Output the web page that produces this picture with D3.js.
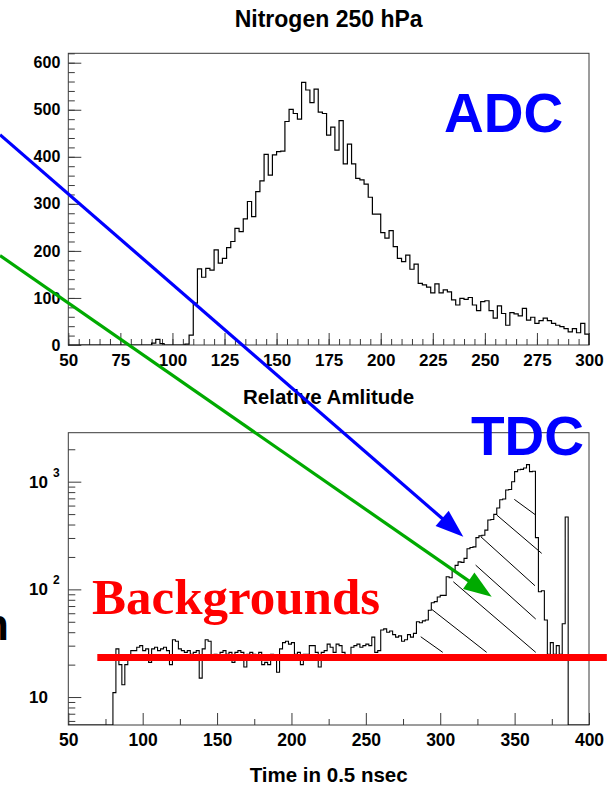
<!DOCTYPE html>
<html><head><meta charset="utf-8">
<script src="https://cdn.jsdelivr.net/npm/d3@7"></script>
<style>body{margin:0;background:#fff} svg{display:block}</style>
</head><body>
<script>
// ---------------- DATA ----------------
const titleText = "Nitrogen 250 hPa";
const adcXLabel = "Relative Amlitude";
const tdcXLabel = "Time in 0.5 nsec";

const adcStart = 50, adcBinWidth = 2;
const adcCounts = [
  0,0,0,0,0,0,0,0,0,0, 0,0,0,0,0,0,0,0,0,0,          // 50-88
  4,12,3, 0,0,0,0,0, 2,21,89,                        // 90-110
  162,144,163,159,202,174,184,207,220,248,            // 112-130
  241,268,305,273,326,349,405,361,404,411,            // 132-150
  412,475,501,492,480,558,542,515,544,495,            // 152-170
  492,446,463,414,477,385,427,385,354,351,            // 172-190
  342,314,278,278,239,227,243,209,184,177,            // 192-210
  191,161,172,131,128,123,111,130,111,117,            // 212-230
  113,96,85,99,97,101,85,73,92,94,                    // 232-250
  73,57,83,67,42,69,66,62,78,53,                      // 252-270
  59,46,52,57,52,46,42,39,35,28,                      // 272-290
  35,26,46,23                                         // 292-298
];
const adcXTicks = [50,75,100,125,150,175,200,225,250,275,300];
const adcXMinor = d3.range(50, 301, 5);
const adcYTicks = [0,100,200,300,400,500,600];
const adcYMinor = d3.range(0, 621, 20);

const tdcStart = 50, tdcBinWidth = 2;
const tdcCounts = [
  0,0,0,0,0,0,0,0,0,0,0,0,0,0,0,                      // 50-78
  11,28,20,13,20,23,27,27,29,30,                      // 80-98
  27,28,21,28,29,27,28,29,27,20,                      // 100-118
  34,33,28,27,26,27,25,26,27,15,                      // 120-138
  28,34,33,24,25,23,26,27,25,26,                      // 140-158
  21,26,27,26,19,25,26,25,24,26,                      // 160-178
  20,21,20,25,24,17,28,32,33,31,                      // 180-198
  32,25,26,20,25,25,30,30,26,                         // 200-216
  19,26,27,31,29,26,31,30,26,23,                      // 218-236
  22,29,30,31,29,30,31,30,36,26,                      // 238-256
  27,42,43,40,41,38,36,37,33,34,                      // 258-276
  38,36,39,50,49,51,52,64,75,77,                      // 278-296
  85,88,88,131,128,152,167,180,178,194,               // 298-316
  238,245,248,302,314,318,355,440,445,497,            // 318-336
  570,680,690,838,845,1000,1240,1290,1300,1340,       // 338-356
  1440,1240,1250,302,95,97,52,25,32,25,               // 358-376
  30,25,48,470,0,                                     // 378-386
  0,0,0,0,0,0                                         // 388-398
];
const tdcXTicks = [50,100,150,200,250,300,350,400];
const tdcXMinor = [75,125,175,225,275,325,375];
const tdcYTicks = [10,100,1000];
const tdcYExp = ["", "2", "3"];
const tdcYMinor = [6,7,8,9,20,30,40,50,60,70,80,90,200,300,400,500,600,700,800,900,2000];

// annotations (in data units of the plots)
const backgroundLevel = 23.3;           // TDC counts
const backgroundRange = [69.5, 412];    // TDC x
const hatchSegments = [                 // TDC [x1,v1,x2,v2]
  [286.9,36.3,301.7,26.0],
  [294.3,65.2,331.2,26.0],
  [308.8,117.7,364.2,26.0],
  [323.8,168,364.2,53],
  [327.4,307,363.7,108],
  [338,490,368.2,216],
  [349.8,685,364.2,490]
];
// arrows: start in ADC units, tip in TDC units
const arrows = [
  {color:"#0000ff", from:[17.2,447], to:[315.5,308]},
  {color:"#00aa00", from:[17.2,190], to:[334.6,85.3]}
];

// ---------------- LAYOUT ----------------
const W = 611, H = 788;
const frameL = 68.3, frameR = 589;
const adcT = 53.3, adcB = 345;
const tdcT = 432.7, tdcB = 725;
const FONT = "'Liberation Sans', Arial, Helvetica, sans-serif";

const svg = d3.select("body").append("svg").attr("width", W).attr("height", H)
  .style("font-family", FONT);

const xA = d3.scaleLinear().domain([50,300]).range([frameL, frameR]);
const yA = d3.scaleLinear().domain([0,620]).range([adcB, adcT]);
const xT = d3.scaleLinear().domain([50,400]).range([frameL, frameR]);
const yT = d3.scaleLog().domain([5.5,2850]).range([tdcB, tdcT]);

function stepPath(start, width, counts, xs, ys, floorVal) {
  const p = d3.path();
  const yv = v => ys(Math.max(v, floorVal));
  p.moveTo(xs(start), yv(floorVal));
  counts.forEach((c,i) => {
    p.lineTo(xs(start + i*width), yv(c));
    p.lineTo(xs(start + (i+1)*width), yv(c));
  });
  p.lineTo(xs(start + counts.length*width), yv(floorVal));
  return p.toString();
}

const defs = svg.append("defs");
defs.append("clipPath").attr("id","clipA").append("rect")
  .attr("x",frameL).attr("y",adcT).attr("width",frameR-frameL).attr("height",adcB-adcT);
defs.append("clipPath").attr("id","clipT").append("rect")
  .attr("x",frameL).attr("y",tdcT).attr("width",frameR-frameL).attr("height",tdcB-tdcT);

const frameColor = "#3a3a3a";
function styleAxis(g, fs) {
  g.select(".domain").remove();
  g.selectAll(".tick line").attr("stroke", frameColor).attr("stroke-width", 1);
  g.selectAll(".tick text").attr("fill","#000").style("font-size", fs+"px")
    .style("font-weight","bold").style("font-family", FONT);
}

// ---------- ADC panel ----------
svg.append("rect").attr("x",frameL).attr("y",adcT).attr("width",frameR-frameL)
  .attr("height",adcB-adcT).attr("fill","none").attr("stroke",frameColor).attr("stroke-width",1);

svg.append("g").attr("transform",`translate(0,${adcB})`)
  .call(d3.axisBottom(xA).tickValues(adcXMinor).tickSize(-6).tickFormat(""))
  .call(g=>styleAxis(g,17));
svg.append("g").attr("transform",`translate(0,${adcB})`)
  .call(d3.axisBottom(xA).tickValues(adcXTicks).tickSize(-12).tickPadding(9).tickFormat(d3.format("d")))
  .call(g=>styleAxis(g,17));
svg.append("g").attr("transform",`translate(${frameL},0)`)
  .call(d3.axisLeft(yA).tickValues(adcYMinor.filter(v=>v<=620)).tickSize(-6.5).tickFormat(""))
  .call(g=>styleAxis(g,17));
svg.append("g").attr("transform",`translate(${frameL},0)`)
  .call(d3.axisLeft(yA).tickValues(adcYTicks).tickSize(-13).tickPadding(8).tickFormat(d3.format("d")))
  .call(g=>styleAxis(g,16));

svg.append("path").attr("d", stepPath(adcStart, adcBinWidth, adcCounts, xA, yA, 0))
  .attr("fill","none").attr("stroke","#000").attr("stroke-width",1.2)
  .attr("clip-path","url(#clipA)");

// ---------- TDC panel ----------
svg.append("rect").attr("x",frameL).attr("y",tdcT).attr("width",frameR-frameL)
  .attr("height",tdcB-tdcT).attr("fill","none").attr("stroke",frameColor).attr("stroke-width",1);

svg.append("g").attr("transform",`translate(0,${tdcB})`)
  .call(d3.axisBottom(xT).tickValues(tdcXMinor).tickSize(-6).tickFormat(""))
  .call(g=>styleAxis(g,17));
svg.append("g").attr("transform",`translate(0,${tdcB})`)
  .call(d3.axisBottom(xT).tickValues(tdcXTicks).tickSize(-12).tickPadding(9).tickFormat(d3.format("d")))
  .call(g=>styleAxis(g,17.5));
svg.append("g").attr("transform",`translate(${frameL},0)`)
  .call(d3.axisLeft(yT).tickValues(tdcYMinor).tickSize(-7).tickFormat(""))
  .call(g=>styleAxis(g,17));
svg.append("g").attr("transform",`translate(${frameL},0)`)
  .call(d3.axisLeft(yT).tickValues(tdcYTicks).tickSize(-13).tickFormat(""))
  .call(g=>styleAxis(g,17));
// log labels 10^n
const labG = svg.append("g").style("font-weight","bold").attr("fill","#000");
tdcYTicks.forEach((v,i) => {
  labG.append("text").attr("x", 48).attr("y", yT(v)).attr("dy","0.35em")
    .attr("text-anchor","end").style("font-size","17px").text("10");
  if (tdcYExp[i]) labG.append("text").attr("x", 53).attr("y", yT(v) - 5)
    .style("font-size","12px").text(tdcYExp[i]);
});

svg.append("path").attr("d", stepPath(tdcStart, tdcBinWidth, tdcCounts, xT, yT, 5.5))
  .attr("fill","none").attr("stroke","#000").attr("stroke-width",1.1)
  .attr("clip-path","url(#clipT)");

// hatch
svg.append("g").selectAll("line").data(hatchSegments).join("line")
  .attr("x1",d=>xT(d[0])).attr("y1",d=>yT(d[1]))
  .attr("x2",d=>xT(d[2])).attr("y2",d=>yT(d[3]))
  .attr("stroke","#000").attr("stroke-width",1);

// ---------- texts ----------
svg.append("text").attr("x",(frameL+frameR)/2).attr("y",27).attr("text-anchor","middle")
  .style("font-size","23px").style("font-weight","bold").text(titleText);
svg.append("text").attr("x",(frameL+frameR)/2).attr("y",404).attr("text-anchor","middle")
  .style("font-size","20.5px").style("font-weight","bold").text(adcXLabel);
svg.append("text").attr("x",(frameL+frameR)/2).attr("y",782).attr("text-anchor","middle")
  .style("font-size","20.5px").style("font-weight","bold").text(tdcXLabel);

svg.append("text").attr("x",444).attr("y",131.5).style("font-size","55px")
  .style("font-weight","bold").attr("fill","#0000ff").text("ADC");
svg.append("text").attr("x",471).attr("y",455).style("font-size","55px")
  .style("font-weight","bold").attr("fill","#0000ff").text("TDC");
svg.append("text").attr("x",92).attr("y",614)
  .style("font-family","'Liberation Serif','Times New Roman',serif")
  .style("font-size","51px").style("font-weight","bold").attr("fill","#ff0000").text("Backgrounds");
svg.append("text").attr("x",9).attr("y",640).attr("text-anchor","end")
  .style("font-size","44px").style("font-weight","bold").attr("fill","#000").text("n");

// background line
svg.append("line").attr("x1",xT(backgroundRange[0])).attr("x2",xT(backgroundRange[1]))
  .attr("y1",yT(backgroundLevel)).attr("y2",yT(backgroundLevel))
  .attr("stroke","#ff0000").attr("stroke-width",7);

// arrows
arrows.forEach(a => {
  const x1 = xA(a.from[0]), y1 = yA(a.from[1]);
  const x2 = xT(a.to[0]), y2 = yT(a.to[1]);
  const ang = Math.atan2(y2-y1, x2-x1);
  const L = 28, hw = 10;
  const bx = x2 - L*Math.cos(ang), by = y2 - L*Math.sin(ang);
  svg.append("line").attr("x1",x1).attr("y1",y1).attr("x2",bx + 4*Math.cos(ang)).attr("y2",by + 4*Math.sin(ang))
    .attr("stroke",a.color).attr("stroke-width",3.2);
  const px = -Math.sin(ang), py = Math.cos(ang);
  svg.append("path").attr("d",`M${x2},${y2}L${bx+hw*px},${by+hw*py}L${bx-hw*px},${by-hw*py}Z`)
    .attr("fill",a.color);
});
</script>
</body></html>
